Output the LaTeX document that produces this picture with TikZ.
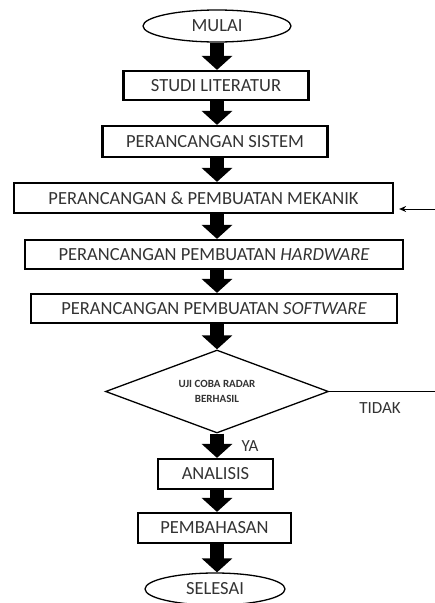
\documentclass[tikz,border=0pt]{standalone}
\usepackage{fontspec}
\setmainfont{Carlito}
\usetikzlibrary{shapes.geometric,arrows.meta}

\tikzset{
  kotak/.style={draw, line width=2.2pt, inner sep=0pt, text=black!80,
    font=\fontsize{18.5}{22}\selectfont},
  oval/.style={draw, ellipse, line width=1.3pt, inner sep=0pt, text=black!80,
    minimum width=#1, minimum height=32pt, font=\fontsize{18.5}{22}\selectfont},
  keputusan/.style={draw, diamond, line width=1.3pt, inner sep=0pt, aspect=2.69,
    minimum width=223pt, minimum height=83pt, align=center, text=black!80,
    font=\fontsize{11}{15}\selectfont\bfseries},
  panah/.style={line width=14pt, -{Triangle[width=30pt,length=14pt]}},
  label/.style={text=black!80, font=\fontsize{17}{20}\selectfont},
}

\begin{document}
\begin{tikzpicture}[x=1pt,y=-1pt]
\useasboundingbox (0,0) rectangle (435,603);
\node [oval=148pt] (mulai) at (217,26) {MULAI};
\node [kotak, minimum width=185pt, minimum height=29pt] (studi) at (216,85.5) {STUDI LITERATUR};
\node [kotak, minimum width=225pt, minimum height=31pt] (sistem) at (215,141.5) {PERANCANGAN SISTEM};
\node [kotak, minimum width=379pt, minimum height=30pt] (mekanik) at (203.5,198) {PERANCANGAN \& PEMBUATAN MEKANIK};
\node [kotak, minimum width=378pt, minimum height=29pt] (hardware) at (214,254.5) {PERANCANGAN PEMBUATAN \textit{HARDWARE}};
\node [kotak, minimum width=366pt, minimum height=29pt] (software) at (214,308.5) {PERANCANGAN PEMBUATAN \textit{SOFTWARE}};
\node [keputusan] (uji) at (217,391.5) {UJI COBA RADAR\\BERHASIL};
\node [kotak, minimum width=115pt, minimum height=30pt] (analisis) at (215.5,474) {ANALISIS};
\node [kotak, minimum width=153pt, minimum height=30pt] (bahas) at (214.5,528) {PEMBAHASAN};
\node [oval=140pt] (selesai) at (215,589) {SELESAI};
\node [label] (tidak) at (380,408) {TIDAK};
\node [label] (ya) at (250,446) {YA};
\coordinate (kanan1) at (435,209);
\coordinate (kanan2) at (435,391.5);
\foreach \a/\b in {mulai/studi, studi/sistem, sistem/mekanik, mekanik/hardware,
  hardware/software, software/uji, uji/analisis, analisis/bahas, bahas/selesai}
\draw [panah] (uji.north |- \a.south) -- (uji.north |- \b.north);
\draw [line width=1.2pt] (uji.east) -- (kanan2);
\draw [line width=1pt, -{Stealth[length=7pt,width=6pt]}, shorten >=5pt] (kanan1) -- (mekanik.east |- kanan1);
\end{tikzpicture}
\end{document}
